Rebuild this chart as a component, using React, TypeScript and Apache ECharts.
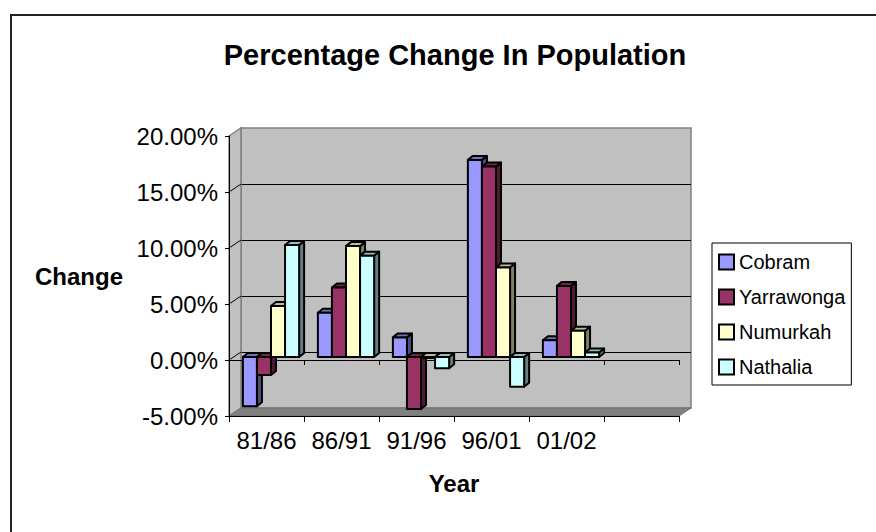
import React, { useEffect, useRef } from 'react';
import * as echarts from 'echarts';

// ---- data ----
const categories = ['81/86', '86/91', '91/96', '96/01', '01/02', ''];
const seriesNames = ['Cobram', 'Yarrawonga', 'Numurkah', 'Nathalia'];
const cobram = [-4.4, 3.95, 1.75, 17.6, 1.5];
const yarrawonga = [-1.6, 6.2, -4.65, 17.0, 6.35];
const numurkah = [4.55, 9.9, -0.1, 8.0, 2.35];
const nathalia = [10.0, 9.05, -1.0, -2.65, 0.4];
const yTicks = [-5, 0, 5, 10, 15, 20];

// ---- styles ----
const frontColors = ['#9999FF', '#993366', '#FFFFCC', '#CCFFFF'];
const sideColors = ['#4D4D80', '#4D1A33', '#808066', '#668080'];
const topColors = ['#7070BB', '#70254A', '#BBBB95', '#95BBBB'];
const FONT = 'Liberation Sans, Arial, sans-serif';

// ---- layout ----
const FRONT = { left: 229, top: 136, width: 450, height: 280 };
const DEPTH = { dx: 12, dy: -8 };
const BAR_SHIFT = { dx: 4.5, dy: -3 };
const BAR_DEPTH = { dx: 5, dy: -4 };

const yMin = yTicks[0];
const yMax = yTicks[yTicks.length - 1];
const yStep = yTicks[1] - yTicks[0];
const yPix = (v: number) => FRONT.top + ((yMax - v) / (yMax - yMin)) * FRONT.height;

const makeRender = (s: number) => (params: any, api: any) => {
  const ci = api.value(0);
  const v = api.value(1);
  const p0 = api.coord([ci, 0]);
  const p1 = api.coord([ci, v]);
  const band = api.size([1, 0])[0];
  const groupW = band * 0.75;
  const bw = groupW / 4;
  const x0 = p0[0] - groupW / 2 + s * bw;
  const x1 = x0 + bw;
  const yt = Math.min(p0[1], p1[1]);
  const yb = Math.max(p0[1], p1[1]);
  const { dx, dy } = BAR_DEPTH;
  const st = { stroke: '#000', lineWidth: 2, lineJoin: 'round' };
  return {
    type: 'group',
    children: [
      {
        type: 'polygon',
        shape: { points: [[x1, yt], [x1 + dx, yt + dy], [x1 + dx, yb + dy], [x1, yb]] },
        style: { fill: sideColors[s], ...st },
      },
      {
        type: 'polygon',
        shape: { points: [[x0, yt], [x0 + dx, yt + dy], [x1 + dx, yt + dy], [x1, yt]] },
        style: { fill: topColors[s], ...st },
      },
      {
        type: 'rect',
        shape: { x: x0, y: yt, width: bw, height: Math.max(yb - yt, 0.5) },
        style: { fill: frontColors[s], ...st },
      },
    ],
  };
};

export default function App() {
  const ref = useRef<HTMLDivElement>(null);
  useEffect(() => {
    document.body.style.margin = '0';
    if (!ref.current) return;
    const chart = echarts.init(ref.current, null, { renderer: 'svg' });
    const values = [cobram, yarrawonga, numurkah, nathalia];

    const fL = FRONT.left, fR = FRONT.left + FRONT.width;
    const fT = FRONT.top, fB = FRONT.top + FRONT.height;
    const { dx, dy } = DEPTH;

    const graphics: any[] = [
      {
        type: 'rect',
        z: 0,
        shape: { x: 11, y: 15, width: 1000, height: 1000 },
        style: { fill: 'none', stroke: '#222', lineWidth: 2 },
        silent: true,
      },
      {
        type: 'polygon',
        z: 1,
        shape: { points: [[fL, fT], [fL + dx, fT + dy], [fL + dx, fB + dy], [fL, fB]] },
        style: { fill: '#C0C0C0', stroke: '#808080', lineWidth: 1.5 },
      },
      {
        type: 'polygon',
        z: 1,
        shape: { points: [[fL, fB], [fR, fB], [fR + dx, fB + dy], [fL + dx, fB + dy]] },
        style: { fill: '#808080', stroke: '#707070', lineWidth: 1 },
      },
      ...yTicks.slice(1, -1).map((v) => ({
        type: 'line',
        z: 2,
        shape: { x1: fL, y1: yPix(v), x2: fL + dx, y2: yPix(v) + dy },
        style: { stroke: '#000', lineWidth: 1 },
      })),
    ];

    const option: any = {
      animation: false,
      backgroundColor: '#fff',
      title: {
        text: 'Percentage Change In Population',
        left: 450,
        textAlign: 'center',
        top: 35,
        textStyle: { fontFamily: FONT, fontWeight: 'bold', fontSize: 29, color: '#000' },
      },
      legend: {
        orient: 'vertical',
        left: 712,
        top: 243,
        padding: [9, 6, 8, 6],
        borderColor: '#000',
        borderWidth: 1,
        itemWidth: 15,
        itemHeight: 15,
        itemGap: 15,
        icon: 'rect',
        textStyle: { fontFamily: FONT, fontSize: 20, color: '#000', lineHeight: 20 },
        data: seriesNames.map((n, i) => ({
          name: n,
          itemStyle: { color: frontColors[i], borderColor: '#000', borderWidth: 2 },
        })),
      },
      graphic: graphics,
      grid: [
        { left: fL, top: fT, width: FRONT.width, height: FRONT.height, containLabel: false },
        {
          left: fL + dx,
          top: fT + dy,
          width: FRONT.width,
          height: FRONT.height,
          show: true,
          backgroundColor: '#C0C0C0',
          borderColor: '#808080',
          borderWidth: 1.5,
        },
        {
          left: fL + BAR_SHIFT.dx,
          top: fT + BAR_SHIFT.dy,
          width: FRONT.width,
          height: FRONT.height,
        },
      ],
      xAxis: [
        {
          gridIndex: 0,
          type: 'category',
          data: categories,
          position: 'bottom',
          z: 3,
          axisLine: { onZero: false, lineStyle: { color: '#000', width: 1 } },
          axisTick: { show: true, length: 6, lineStyle: { color: '#000' } },
          axisLabel: { fontFamily: FONT, fontSize: 24, color: '#000', margin: 12, interval: 0 },
          name: 'Year',
          nameLocation: 'middle',
          nameGap: 55,
          nameTextStyle: { fontFamily: FONT, fontWeight: 'bold', fontSize: 24, color: '#000' },
          splitLine: { show: false },
        },
        {
          gridIndex: 0,
          type: 'category',
          data: categories,
          position: 'bottom',
          z: 3,
          axisLine: { onZero: true, onZeroAxisIndex: 0, lineStyle: { color: '#000', width: 1 } },
          axisTick: { show: true, length: 5, lineStyle: { color: '#000' } },
          axisLabel: { show: false },
          splitLine: { show: false },
        },
        { gridIndex: 1, type: 'category', data: categories, show: false },
        { gridIndex: 2, type: 'category', data: categories, show: false },
      ],
      yAxis: [
        {
          gridIndex: 0,
          type: 'value',
          min: yMin,
          max: yMax,
          interval: yStep,
          z: 3,
          axisLine: { show: true, lineStyle: { color: '#000', width: 1 } },
          axisTick: { show: true, length: 4, lineStyle: { color: '#000' } },
          axisLabel: {
            fontFamily: FONT,
            fontSize: 24,
            color: '#000',
            margin: 11,
            formatter: (v: number) => v.toFixed(2) + '%',
          },
          splitLine: { show: false },
          name: 'Change',
          nameLocation: 'middle',
          nameRotate: 0,
          nameGap: 106,
          nameTextStyle: { fontFamily: FONT, fontWeight: 'bold', fontSize: 24, color: '#000' },
        },
        {
          gridIndex: 1,
          type: 'value',
          min: yMin,
          max: yMax,
          interval: yStep,
          axisLine: { show: false },
          axisTick: { show: false },
          axisLabel: { show: false },
          splitLine: { show: true, showMaxLine: false, showMinLine: false, lineStyle: { color: '#000', width: 1 } },
        },
        {
          gridIndex: 2,
          type: 'value',
          min: yMin,
          max: yMax,
          interval: yStep,
          show: false,
          splitLine: { show: false },
        },
      ],
      series: seriesNames.map((n, s) => ({
        type: 'custom',
        name: n,
        xAxisIndex: 3,
        yAxisIndex: 2,
        z: 5,
        itemStyle: { color: frontColors[s], borderColor: '#000', borderWidth: 2 },
        renderItem: makeRender(s),
        encode: { x: 0, y: 1 },
        data: values[s].map((v, i) => [i, v]),
      })),
    };
    chart.setOption(option);
    return () => chart.dispose();
  }, []);
  return <div ref={ref} style={{ width: 876, height: 532 }} />;
}
